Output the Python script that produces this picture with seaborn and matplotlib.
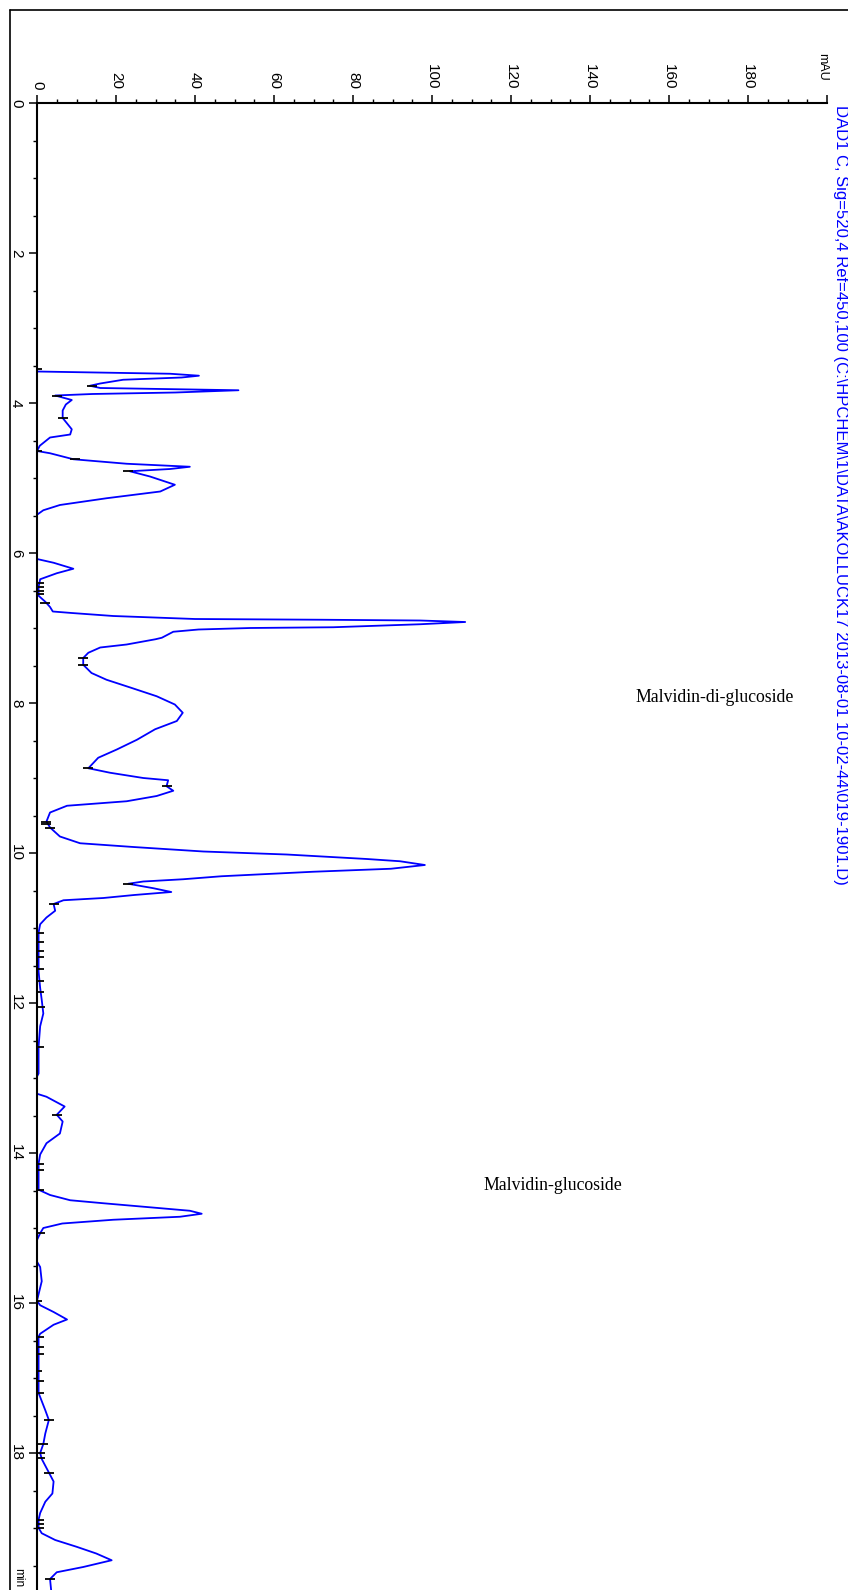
import matplotlib
matplotlib.use("Agg")
import matplotlib.pyplot as plt
import seaborn as sns
import numpy as np
import pandas as pd
from matplotlib.lines import Line2D
from matplotlib.ticker import MultipleLocator

# ---------------- data ----------------
time_min = [3.50, 3.58, 3.61, 3.636, 3.66, 3.69, 3.74, 3.77, 3.80, 3.83, 3.86, 3.88, 3.90,
            3.96, 4.02, 4.10, 4.20, 4.35, 4.42, 4.46, 4.57, 4.64, 4.67, 4.75, 4.81, 4.85,
            4.88, 4.91, 4.98, 5.09, 5.18, 5.27, 5.36, 5.43, 5.49, 6.08, 6.13, 6.21, 6.27,
            6.35, 6.45, 6.57, 6.65, 6.72, 6.78, 6.80, 6.84, 6.88, 6.89, 6.90, 6.92, 6.95,
            6.99, 7.00, 7.02, 7.05, 7.13, 7.15, 7.22, 7.26, 7.33, 7.40, 7.49, 7.60, 7.69,
            7.80, 7.91, 8.02, 8.13, 8.24, 8.35, 8.49, 8.62, 8.73, 8.87, 8.93, 9.00, 9.03,
            9.11, 9.17, 9.24, 9.31, 9.37, 9.46, 9.58, 9.66, 9.78, 9.87, 9.92, 9.98, 10.02,
            10.08, 10.11, 10.16, 10.21, 10.25, 10.31, 10.35, 10.38, 10.41, 10.47, 10.52,
            10.56, 10.60, 10.63, 10.68, 10.77, 10.86, 10.95, 11.06, 11.58, 11.80, 11.96,
            12.14, 12.31, 12.58, 12.94, 12.98, 13.21, 13.25, 13.38, 13.49, 13.58, 13.74,
            13.87, 14.02, 14.14, 14.40, 14.49, 14.56, 14.63, 14.67, 14.72, 14.77, 14.81,
            14.85, 14.89, 14.94, 15.00, 15.07, 15.16, 15.45, 15.52, 15.71, 15.88, 15.97,
            16.03, 16.12, 16.22, 16.29, 16.41, 16.45, 17.20, 17.43, 17.56, 17.74, 17.88,
            18.00, 18.08, 18.26, 18.38, 18.54, 18.65, 18.80, 18.89, 19.00, 19.07, 19.16,
            19.25, 19.34, 19.43, 19.52, 19.59, 19.68, 19.83, 20.00]
signal_mau = [0, 0, 33.7, 41.0, 36.6, 21.8, 16.0, 13.4, 16.0, 51.0, 35.0, 14.0, 4.6,
              8.8, 7.3, 6.5, 6.5, 8.8, 8.4, 3.3, 0.7, 0, 3.3, 9.2, 22.7, 38.7,
              33.7, 23.5, 28.6, 34.9, 31.2, 17.6, 5.8, 1.6, 0, 0, 4.2, 9.2, 5.0,
              0.8, 0.4, 0.4, 2.1, 3.3, 4.0, 8.8, 19.3, 40.0, 72.5, 97.0, 108.4, 97.0,
              75.0, 54.0, 40.9, 34.5, 31.6, 30.0, 22.7, 16.0, 13.0, 11.7, 11.7, 13.8, 17.6,
              24.0, 30.3, 34.9, 36.9, 35.4, 29.9, 25.3, 20.2, 15.5, 13.0, 18.5, 26.9, 33.2,
              32.8, 34.5, 30.3, 22.7, 7.6, 3.3, 2.4, 3.3, 5.8, 10.9, 24.4, 42.1, 63.2,
              83.5, 91.9, 98.2, 89.6, 69.9, 46.7, 37.0, 26.9, 23.1, 29.5, 34.0,
              24.6, 16.8, 6.7, 4.2, 4.6, 2.4, 0.8, 0.4, 0.4, 0.8, 1.2,
              1.6, 0.8, 0.4, 0.4, 0, 0, 2.4, 7.0, 5.0, 6.5, 5.8,
              2.4, 0.8, 0.4, 0.4, 0.4, 3.3, 8.4, 16.8, 27.8, 38.7, 41.7,
              36.2, 19.3, 6.4, 1.6, 0.8, 0, 0, 0.8, 1.2, 0.4, 0,
              0.8, 4.2, 7.6, 4.2, 0.8, 0.4, 0.4, 2.1, 3.0, 2.1, 1.6,
              0.8, 1.2, 3.0, 4.2, 3.9, 2.1, 0.8, 0.4, 0.4, 1.2, 4.6,
              10.0, 15.0, 18.9, 11.7, 5.0, 3.3, 3.6, 3.6]

# baseline event marks (time, mAU)
event_time = [3.54, 3.77, 3.90, 4.20, 4.64, 4.75, 4.91, 6.40, 6.45, 6.50, 6.55, 6.67,
              7.40, 7.49, 8.87, 9.11, 9.58, 9.62, 9.66, 10.41, 10.68, 11.06, 11.19,
              11.30, 11.39, 11.55, 11.70, 11.85, 12.05, 12.58, 13.49, 14.14, 14.23,
              14.49, 15.07, 15.97, 16.45, 16.59, 16.68, 16.90, 17.04, 17.20, 17.56,
              17.88, 18.00, 18.07, 18.26, 18.89, 18.94, 19.00, 19.68]
event_mau = [0, 14, 5, 6.5, 0, 9.5, 23, 0.5, 0.5, 0.5, 0.5, 2, 11.7, 11.7, 13, 32.8,
             2.4, 2.4, 3.3, 23.1, 4.2, 0.4, 0.4, 0.6, 0.4, 0.4, 0.4, 0.6, 0.8, 0.4, 5,
             0.4, 0.4, 0.4, 0.8, 0, 0.4, 0.4, 0.4, 0, 0.4, 0.4, 3, 1.6, 0.8, 0.8, 3,
             0.4, 0.4, 0.4, 3.3]

mau_ticks = [0, 20, 40, 60, 80, 100, 120, 140, 160, 180, 200]
mau_tick_labels = ["0", "20", "40", "60", "80", "100", "120", "140", "160", "180", ""]
time_ticks = [0, 2, 4, 6, 8, 10, 12, 14, 16, 18]

peak_names = ["Malvidin-di-glucoside", "Malvidin-glucoside"]
peak_label_time = [7.93, 14.44]
peak_label_mau = [151.5, 113.0]

header = ("DAD1 C, Sig=520,4 Ref=450,100 (C:\\HPCHEM\\1\\DATA\\AKOLLUCK17 "
          "2013-08-01 10-02-44\\019-1901.D)")

# ---------------- plot ----------------
sns.set_style("ticks")
plt.rcParams["font.family"] = ["Liberation Sans", "DejaVu Sans"]

W, H = 848, 1590
fig = plt.figure(figsize=(W / 100, H / 100), dpi=100)
ax = fig.add_axes([37 / W, (H - 1603) / H, 790 / W, 1500 / H])

df = pd.DataFrame({"time": time_min, "mAU": signal_mau})
sns.lineplot(data=df, x="mAU", y="time", sort=False, orient="y", estimator=None,
             color="#0000ff", lw=1.3, ax=ax, zorder=2)
ax.plot(event_mau, event_time, ls="none", marker="_", ms=7, mew=1.3,
        color="black", zorder=3)

ax.set_xlim(0, 200)
ax.set_ylim(20, 0)

for s in ["right", "bottom"]:
    ax.spines[s].set_visible(False)
for s in ["left", "top"]:
    ax.spines[s].set_linewidth(1.5)
    ax.spines[s].set_color("black")
    ax.spines[s].set_zorder(4)

ax.xaxis.set_ticks_position("top")
ax.xaxis.set_label_position("top")
ax.set_xticks(mau_ticks)
ax.set_xticklabels(mau_tick_labels)
ax.xaxis.set_minor_locator(MultipleLocator(5))
ax.set_yticks(time_ticks)
ax.set_yticklabels([str(t) for t in time_ticks])
ax.yaxis.set_minor_locator(MultipleLocator(0.5))

ax.tick_params(axis="both", which="major", length=6, width=1.1, color="black",
               labelsize=11, labelcolor="black", direction="out")
ax.tick_params(axis="both", which="minor", length=3, width=1.0, color="black",
               direction="out")
ax.tick_params(axis="x", which="both", top=True, bottom=False, labeltop=True,
               labelbottom=False, labelrotation=270, pad=4)
ax.tick_params(axis="y", which="both", left=True, right=False, labelrotation=270, pad=4)
for lab in ax.get_yticklabels():
    lab.set_verticalalignment("center")
ax.set_xlabel("")
ax.set_ylabel("")
ax.grid(False)
ax.set_facecolor("white")

for name, t, v in zip(peak_names, peak_label_time, peak_label_mau):
    ax.text(v, t, name, family=["Liberation Serif", "DejaVu Serif"], fontsize=12.8,
            color="black", ha="left", va="center")

fig.text(822 / W, 1 - 53 / H, "mAU", rotation=270, fontsize=9, ha="center", va="top",
         color="black")
fig.text(18 / W, 1 - 1568 / H, "min", rotation=270, fontsize=8.5, ha="center", va="top",
         color="black")
fig.text(840 / W, 1 - 105 / H, header, rotation=270, fontsize=12, ha="center", va="top",
         color="#0000ff")

fig.add_artist(Line2D([10 / W, 10 / W], [0, 1 - 10 / H], transform=fig.transFigure,
                      color="black", lw=1.2))
fig.add_artist(Line2D([10 / W, 1], [1 - 10 / H, 1 - 10 / H], transform=fig.transFigure,
                      color="black", lw=1.2))

fig.savefig("out.png", dpi=100)
